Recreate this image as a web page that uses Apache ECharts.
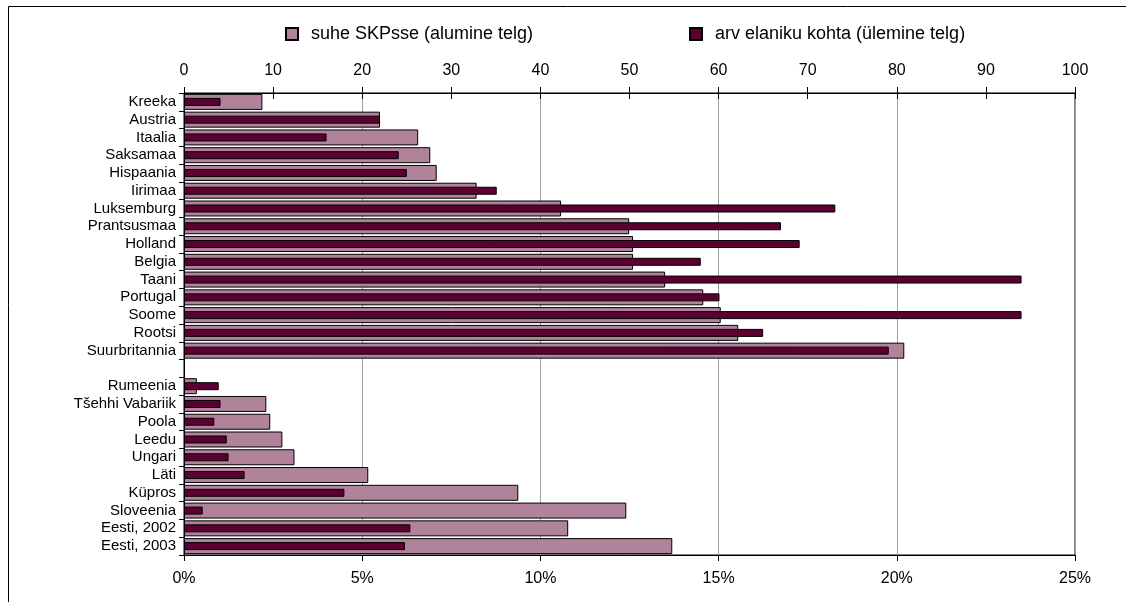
<!DOCTYPE html>
<html>
<head>
<meta charset="utf-8">
<script src="https://cdn.jsdelivr.net/npm/echarts@6/dist/echarts.min.js"></script>
<style>
html,body{margin:0;padding:0;background:#fff;}
#chart{width:1126px;height:602px;}
</style>
</head>
<body>
<div id="chart"></div>
<script>
const categories = ['Kreeka','Austria','Itaalia','Saksamaa','Hispaania','Iirimaa','Luksemburg','Prantsusmaa','Holland','Belgia','Taani','Portugal','Soome','Rootsi','Suurbritannia','','Rumeenia','Tšehhi Vabariik','Poola','Leedu','Ungari','Läti','Küpros','Sloveenia','Eesti, 2002','Eesti, 2003'];
// share of GDP, % (bottom axis)
const shareOfGdp = [2.2,5.5,6.57,6.91,7.09,8.21,10.58,12.49,12.6,12.6,13.5,14.57,15.06,15.55,20.21,null,0.36,2.31,2.42,2.76,3.1,5.17,9.38,12.41,10.78,13.7];
// number per inhabitant (top axis)
const perInhabitant = [4.1,22.0,16.0,24.1,25.0,35.1,73.1,67.0,69.1,58.0,94.0,60.1,94.0,65.0,79.1,null,3.9,4.1,3.4,4.8,5.0,6.8,18.0,2.1,25.4,24.8];
const topTicks = [0,10,20,30,40,50,60,70,80,90,100];
const bottomTicks = [0,5,10,15,20,25];
const seriesNames = ['suhe SKPsse (alumine telg)','arv elaniku kohta (ülemine telg)'];

const font = 'Liberation Sans, Arial, sans-serif';
const chart = echarts.init(document.getElementById('chart'), null, {renderer:'canvas'});
chart.setOption({
  animation:false,
  backgroundColor:'#fff',
  textStyle:{fontFamily:font},
  graphic:[{type:'rect',shape:{x:8.5,y:6.5,width:1300,height:800},style:{fill:'none',stroke:'#000',lineWidth:1},silent:true}],
  legend:[
    {data:[{name:seriesNames[0],icon:'rect'}],left:280,top:20,itemWidth:12,itemHeight:12,itemGap:10,textStyle:{fontFamily:font,fontSize:18,color:'#000',padding:[0,0,0,8]},selectedMode:false},
    {data:[{name:seriesNames[1],icon:'rect'}],left:684,top:20,itemWidth:12,itemHeight:12,itemGap:10,textStyle:{fontFamily:font,fontSize:18,color:'#000',padding:[0,0,0,8]},selectedMode:false}
  ],
  grid:{left:184,right:51,top:93,bottom:47,show:true,borderColor:'#000',borderWidth:1,backgroundColor:'transparent'},
  xAxis:[
    {type:'value',position:'top',min:topTicks[0],max:topTicks[topTicks.length-1],interval:10,
     axisLine:{show:true,lineStyle:{color:'#000',width:1}},
     axisTick:{show:true,length:6,lineStyle:{color:'#000'}},
     axisLabel:{color:'#000',fontSize:16,fontFamily:font,margin:14},
     splitLine:{show:false}},
    {type:'value',position:'bottom',min:bottomTicks[0],max:bottomTicks[bottomTicks.length-1],interval:5,
     axisLine:{show:true,lineStyle:{color:'#000',width:1}},
     axisTick:{show:true,length:6,lineStyle:{color:'#000'}},
     axisLabel:{color:'#000',fontSize:16,fontFamily:font,margin:16,formatter:'{value}%'},
     splitLine:{show:true,lineStyle:{color:'#a0a0a0',width:1}}},
    {type:'value',position:'top',min:0,max:100,interval:10,
     axisLine:{show:false},axisTick:{show:true,inside:true,length:6,lineStyle:{color:'#000'}},
     axisLabel:{show:false},splitLine:{show:false}}
  ],
  yAxis:[
    {type:'category',data:categories,inverse:true,
     axisLine:{show:true,lineStyle:{color:'#000',width:1}},
     axisTick:{show:true,length:5,lineStyle:{color:'#000'}},
     axisLabel:{color:'#000',fontSize:15,fontFamily:font,margin:8,interval:0}},
    {type:'category',data:categories,inverse:true,show:false}
  ],
  series:[
    {name:seriesNames[0],type:'bar',xAxisIndex:1,yAxisIndex:0,data:shareOfGdp,
     barCategoryGap:'10%',
     itemStyle:{color:'#b0839a',borderColor:'#000',borderWidth:1}},
    {name:seriesNames[1],type:'bar',xAxisIndex:0,yAxisIndex:1,data:perInhabitant,
     barWidth:8,
     itemStyle:{color:'#5c0032',borderColor:'#000',borderWidth:1}}
  ]
});
</script>
</body>
</html>
